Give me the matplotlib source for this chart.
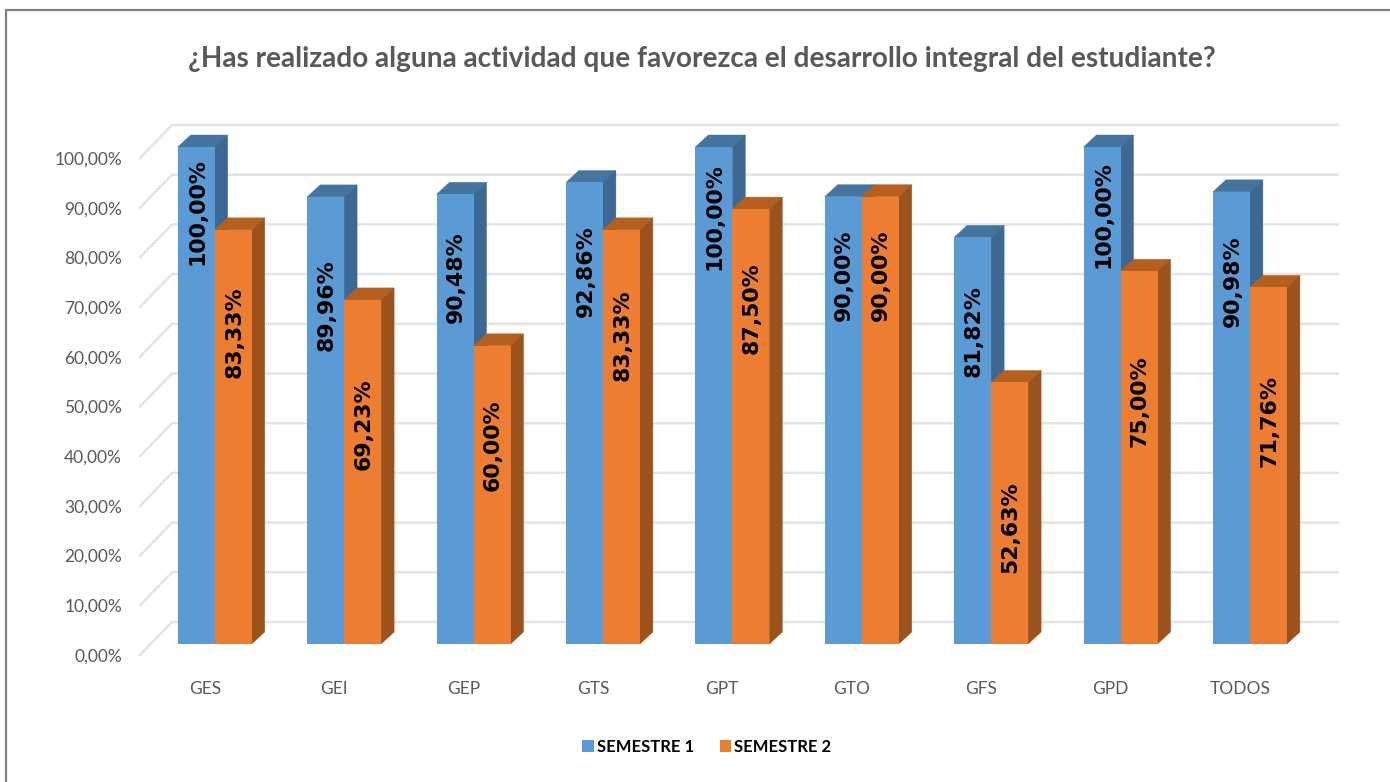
import matplotlib
matplotlib.use("Agg")
import matplotlib.pyplot as plt
from matplotlib.lines import Line2D
from matplotlib.patches import Patch, Polygon

categories = ["GES", "GEI", "GEP", "GTS", "GPT", "GTO", "GFS", "GPD", "TODOS"]
semestre_1 = [100.00, 89.96, 90.48, 92.86, 100.00, 90.00, 81.82, 100.00, 90.98]
semestre_2 = [83.33, 69.23, 60.00, 83.33, 87.50, 90.00, 52.63, 75.00, 71.76]
y_ticks = [0, 10, 20, 30, 40, 50, 60, 70, 80, 90, 100]
series_names = ["SEMESTRE 1", "SEMESTRE 2"]
title = "¿Has realizado alguna actividad que favorezca el desarrollo integral del estudiante?"

# layout (pixels)
W, H = 1390, 782
PX_L, PX_R, PX_B, PX_T = 140, 1338, 655, 126
STEP = 129.4
PPU = 4.97
label_drop_1 = [65, 108, 83, 89, 70, 79, 94, 68, 89]
label_drop_2 = [102, 124, 99, 105, 99, 79, 145, 130, 134]

narrow = "Lato"
GREY = "#595959"

fig = plt.figure(figsize=(W / 100, H / 100), dpi=100, facecolor="white")
ax = fig.add_axes([PX_L / W, 1 - PX_B / H, (PX_R - PX_L) / W, (PX_B - PX_T) / H])
ax.set_xlim(-0.5, -0.5 + (PX_R - PX_L) / STEP)
ax.set_ylim(0, (PX_B - PX_T) / PPU)
ax.patch.set_visible(False)
for s in ax.spines.values():
    s.set_visible(False)

dx = lambda px: px / STEP
dy = lambda px: px / PPU

# back wall and slanted grid lines
for t in y_ticks:
    ax.plot([-0.5, -0.5 + dx(32), ax.get_xlim()[1]], [t, t + dy(33), t + dy(33)],
            color="#e4e4e4", lw=1.8, zorder=1, clip_on=False, solid_joinstyle="miter")

# bars: front at 10px/11px depth, extruded 13px/12px
BAR_W = dx(37)
OFF_X, OFF_Y = dx(10), dy(11)
D_X, D_Y = dx(13), dy(12)


def bar3d(xc, v, front, top, side, z):
    l, r = xc - BAR_W / 2, xc + BAR_W / 2
    b = OFF_Y
    t = v + OFF_Y
    ax.add_patch(Polygon([(l, t), (r, t), (r + D_X, t + D_Y), (l + D_X, t + D_Y)],
                         fc=top, ec=top, lw=0.3, zorder=z, clip_on=False))
    ax.add_patch(Polygon([(r, b), (r, t), (r + D_X, t + D_Y), (r + D_X, b + D_Y)],
                         fc=side, ec=side, lw=0.3, zorder=z, clip_on=False))
    ax.bar(xc, v, width=BAR_W, bottom=b, color=front, zorder=z + 0.1, clip_on=False)


for i, (a, b) in enumerate(zip(semestre_1, semestre_2)):
    x1 = i + OFF_X - BAR_W / 2
    x2 = i + OFF_X + BAR_W / 2
    bar3d(x1, a, "#5B9BD5", "#44759F", "#3C6891", 3 + i)
    bar3d(x2, b, "#ED7D31", "#B5601F", "#9C521D", 3.5 + i)
    for xc, v, drop in ((x1, a, label_drop_1[i]), (x2, b, label_drop_2[i])):
        ax.text(xc + dx(1), v + OFF_Y - dy(drop), f"{v:.2f}%".replace(".", ","),
                rotation=90, ha="center", va="center", fontsize=15.8,
                fontweight="bold", color="black", family="DejaVu Sans", zorder=30)

ax.set_yticks(y_ticks)
ax.set_yticklabels([f"{t:.2f}%".replace(".", ",") for t in y_ticks],
                   family=narrow, fontsize=12.5, color=GREY)
ax.set_xticks(range(len(categories)))
ax.set_xticklabels(categories, family=narrow, fontsize=12.5, color=GREY)
ax.tick_params(axis="y", length=0, pad=13)
ax.tick_params(axis="x", length=0, pad=19)

fig.text(702 / W, 1 - 59 / H, title, ha="center", va="center", family=narrow,
         fontweight="bold", fontsize=20.2, color=GREY)

handles = [Patch(fc="#5B9BD5", label=series_names[0]), Patch(fc="#ED7D31", label=series_names[1])]
fig.legend(handles=handles, loc="center", bbox_to_anchor=(707 / W, 1 - 747 / H), ncol=2,
           frameon=False, handlelength=0.7, handleheight=0.7, handletextpad=0.2,
           columnspacing=1.5, prop={"family": narrow, "weight": "bold", "size": 12},
           labelcolor="black")

# chart frame: left and top edges
fig.add_artist(Line2D([6 / W, 6 / W, 1], [0, 1 - 10 / H, 1 - 10 / H], color="#7f7f7f", lw=1.6))

fig.savefig("out.png", dpi=100, facecolor="white")
